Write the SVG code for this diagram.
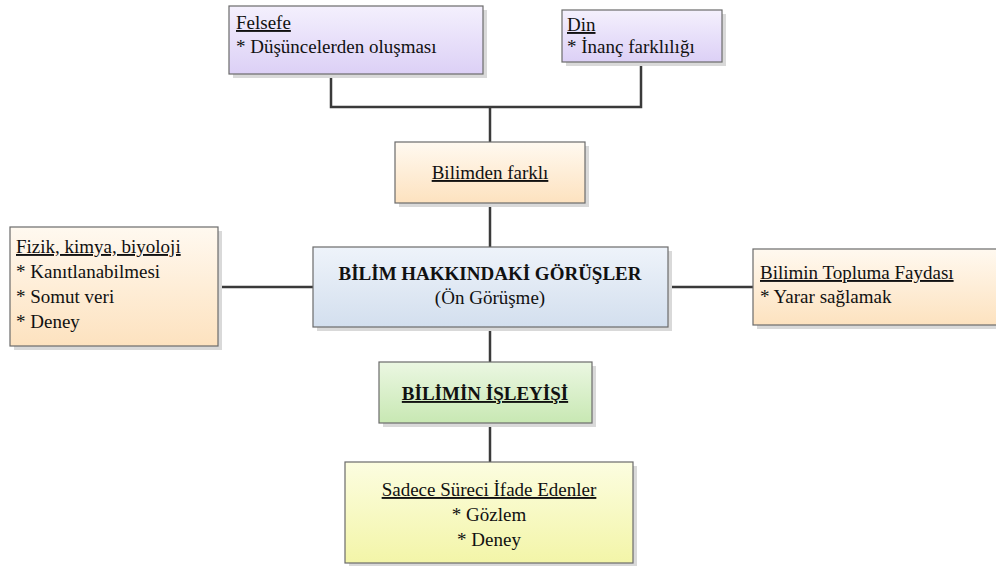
<svg xmlns="http://www.w3.org/2000/svg" width="996" height="566" viewBox="0 0 996 566" font-family="'Liberation Serif', 'DejaVu Serif', serif">
  <defs>
    <linearGradient id="gPurple" x1="0" y1="0" x2="0" y2="1">
      <stop offset="0" stop-color="#f4f0fd"/>
      <stop offset="1" stop-color="#dcd0f6"/>
    </linearGradient>
    <linearGradient id="gOrange" x1="0" y1="0" x2="0" y2="1">
      <stop offset="0" stop-color="#fff9f0"/>
      <stop offset="1" stop-color="#fde2bf"/>
    </linearGradient>
    <linearGradient id="gBlue" x1="0" y1="0" x2="0" y2="1">
      <stop offset="0" stop-color="#eef3fa"/>
      <stop offset="1" stop-color="#d3dfee"/>
    </linearGradient>
    <linearGradient id="gGreen" x1="0" y1="0" x2="0" y2="1">
      <stop offset="0" stop-color="#ebf7e2"/>
      <stop offset="1" stop-color="#c8e8b3"/>
    </linearGradient>
    <linearGradient id="gYellow" x1="0" y1="0" x2="0" y2="1">
      <stop offset="0" stop-color="#fcfde0"/>
      <stop offset="1" stop-color="#f3f5a8"/>
    </linearGradient>
  </defs>
  <style>
    .shadow { fill: #d9d9d9; }
    .box { stroke: #6b6b6b; stroke-width: 1.2; }
    text { font-size: 19px; fill: #111; }
    .u { text-decoration: underline; }
    .b { font-weight: bold; font-size: 19px; }
    .link { fill: none; stroke: #3a3a3a; stroke-width: 2.5; }
  </style>

  <!-- connectors -->
  <g id="connectors">
    <polyline class="link" points="331,74 331,107 641,107 641,62"/>
    <line class="link" x1="490" y1="107" x2="490" y2="142"/>
    <line class="link" x1="490" y1="203" x2="490" y2="247"/>
    <line class="link" x1="218" y1="287" x2="313" y2="287"/>
    <line class="link" x1="668" y1="287" x2="753" y2="287"/>
    <line class="link" x1="490" y1="327" x2="490" y2="362"/>
    <line class="link" x1="490" y1="423" x2="490" y2="462"/>
  </g>

  <!-- Felsefe -->
  <g id="felsefe">
    <rect class="shadow" x="233" y="10" width="254" height="68"/>
    <rect class="box" x="229" y="6" width="254" height="68" fill="url(#gPurple)"/>
    <text class="u" x="236" y="29">Felsefe</text>
    <text x="236" y="53">* Düşüncelerden oluşması</text>
  </g>

  <!-- Din -->
  <g id="din">
    <rect class="shadow" x="566" y="14" width="160" height="52"/>
    <rect class="box" x="562" y="10" width="160" height="52" fill="url(#gPurple)"/>
    <text class="u" x="567" y="31">Din</text>
    <text x="567" y="53">* İnanç farklılığı</text>
  </g>

  <!-- Bilimden farklı -->
  <g id="bilimden-farkli">
    <rect class="shadow" x="399" y="146" width="190" height="61"/>
    <rect class="box" x="395" y="142" width="190" height="61" fill="url(#gOrange)"/>
    <text class="u" x="490" y="179" text-anchor="middle">Bilimden farklı</text>
  </g>

  <!-- Fizik, kimya, biyoloji -->
  <g id="fizik">
    <rect class="shadow" x="14" y="231" width="208" height="119"/>
    <rect class="box" x="10" y="227" width="208" height="119" fill="url(#gOrange)"/>
    <text class="u" x="16" y="253">Fizik, kimya, biyoloji</text>
    <text x="16" y="278">* Kanıtlanabilmesi</text>
    <text x="16" y="303">* Somut veri</text>
    <text x="16" y="328">* Deney</text>
  </g>

  <!-- Central node -->
  <g id="bilim-hakkindaki">
    <rect class="shadow" x="317" y="251" width="355" height="80"/>
    <rect class="box" x="313" y="247" width="355" height="80" fill="url(#gBlue)"/>
    <text class="b" x="490" y="280" text-anchor="middle">BİLİM HAKKINDAKİ GÖRÜŞLER</text>
    <text x="490" y="304" text-anchor="middle">(Ön Görüşme)</text>
  </g>

  <!-- Bilimin Topluma Faydası -->
  <g id="topluma-fayda">
    <rect class="shadow" x="757" y="253" width="243" height="76"/>
    <rect class="box" x="753" y="249" width="245" height="76" fill="url(#gOrange)"/>
    <text class="u" x="760" y="279">Bilimin Topluma Faydası</text>
    <text x="760" y="303">* Yarar sağlamak</text>
  </g>

  <!-- Bilimin İşleyişi -->
  <g id="bilimin-isleyisi">
    <rect class="shadow" x="383" y="366" width="213" height="61"/>
    <rect class="box" x="379" y="362" width="213" height="61" fill="url(#gGreen)"/>
    <text class="b u" x="485" y="400" text-anchor="middle">BİLİMİN İŞLEYİŞİ</text>
  </g>

  <!-- Sadece Süreci İfade Edenler -->
  <g id="sadece-surec">
    <rect class="shadow" x="349" y="466" width="288" height="101"/>
    <rect class="box" x="345" y="462" width="288" height="101" fill="url(#gYellow)"/>
    <text class="u" x="489" y="496" text-anchor="middle">Sadece Süreci İfade Edenler</text>
    <text x="489" y="521" text-anchor="middle">* Gözlem</text>
    <text x="489" y="546" text-anchor="middle">* Deney</text>
  </g>
</svg>
